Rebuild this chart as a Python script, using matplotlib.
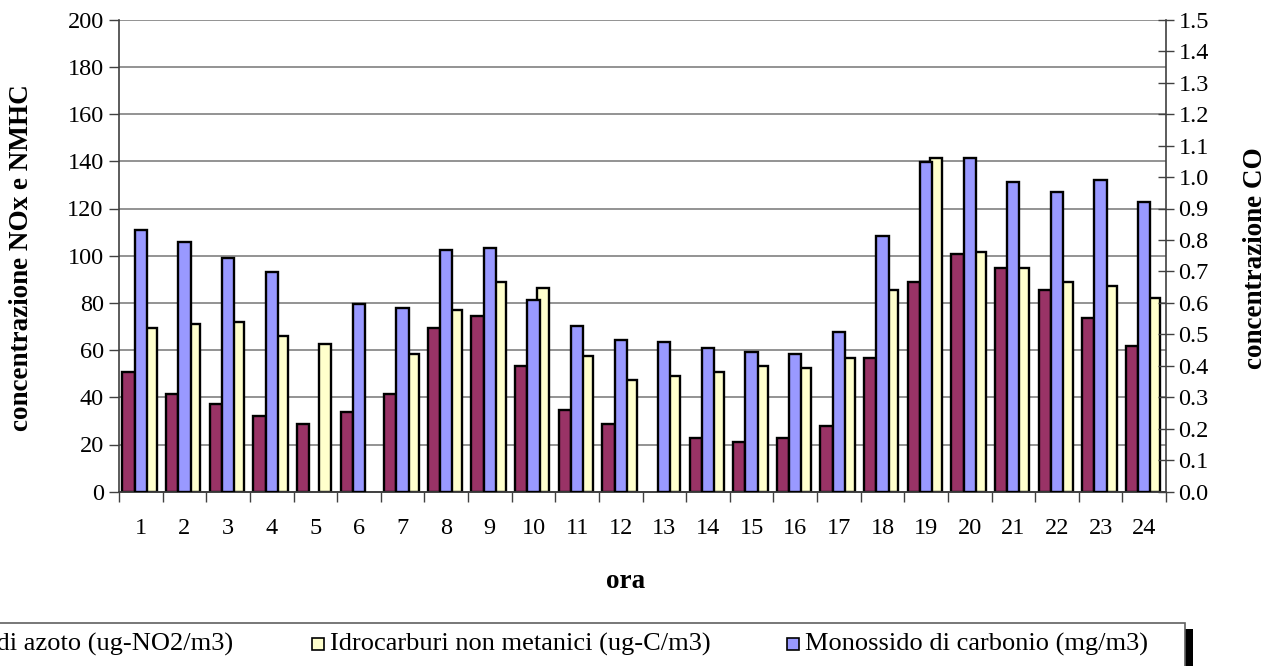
import matplotlib
matplotlib.use("Agg")
import matplotlib.pyplot as plt
from matplotlib.patches import Rectangle
import numpy as np

plt.rcParams['font.family'] = ['Liberation Serif', 'DejaVu Serif']

hours = [str(h) for h in range(1, 25)]
nox = [50.8, 41.4, 37.2, 32.1, 28.7, 33.8, 41.4, 69.4, 74.4, 53.3,
       34.6, 28.7, np.nan, 22.7, 21.1, 22.7, 27.8, 56.7, 88.9, 100.7,
       94.8, 85.5, 73.6, 61.7]
nmhc = [69.4, 71.0, 71.9, 66.0, 62.6, np.nan, 58.3, 77.0, 88.9, 86.3,
        57.5, 47.3, 49.0, 50.7, 53.3, 52.4, 56.7, 85.5, 141.4, 101.6,
        94.8, 88.9, 87.2, 82.1]
co = [0.833, 0.793, 0.744, 0.698, np.nan, 0.596, 0.584, 0.769, 0.774, 0.609,
      0.527, 0.482, 0.476, 0.457, 0.444, 0.438, 0.507, 0.812, 1.048, 1.060,
      0.984, 0.952, 0.990, 0.921]

lab_nox = "Ossidi di azoto (ug-NO2/m3)"
lab_nmhc = "Idrocarburi non metanici (ug-C/m3)"
lab_co = "Monossido di carbonio (mg/m3)"

c_nox = "#993366"
c_nmhc = "#FFFFCC"
c_co = "#9999FF"

W, H = 1279, 666
fig = plt.figure(figsize=(W / 100, H / 100), dpi=100)
L, R, T, B = 119, 1166, 19.7, 491.7
ax = fig.add_axes([L / W, 1 - B / H, (R - L) / W, (B - T) / H])
ax2 = ax.twinx()

x = np.arange(len(hours))
bw = 0.28
ax.bar(x - 0.28, nox, bw, color=c_nox, edgecolor='black', linewidth=1.7, zorder=3)
ax.bar(x + 0.227, nmhc, bw, color=c_nmhc, edgecolor='black', linewidth=1.7, zorder=3)
ax2.bar(x, co, bw, color=c_co, edgecolor='black', linewidth=1.7, zorder=3)

ax.set_xlim(-0.5, len(hours) - 0.5)
ax.set_ylim(0, 200)
ax2.set_ylim(0, 1.5)
ax.set_yticks(np.arange(0, 201, 20))
ax2.set_yticks(np.round(np.arange(0, 1.51, 0.1), 1))
ax2.set_yticklabels([f"{v:.1f}" for v in np.arange(0, 1.51, 0.1)])

tfs = 17.5
ax.set_xticks(x)
ax.set_xticklabels(hours)
ax.set_xticks(np.arange(-0.5, len(hours), 1), minor=True)
ax.tick_params(axis='x', which='major', length=0, pad=19, labelsize=tfs)
ax.tick_params(axis='x', which='minor', length=7, width=1, direction='out', color='#404040')
ax.tick_params(axis='y', length=7, width=1, direction='out', labelsize=tfs, pad=4, color='#404040')
ax2.tick_params(axis='y', length=12, width=1, direction='inout', labelsize=tfs, pad=3, color='#404040')

ax.grid(axis='y', color='#808080', linewidth=1.2, zorder=0)
ax.set_axisbelow(True)
for a in (ax, ax2):
    a.spines['top'].set_visible(False)
    for s in ('left', 'right', 'bottom'):
        a.spines[s].set_color('#404040')
        a.spines[s].set_linewidth(1.2)
ax2.spines['left'].set_visible(False)
ax.spines['right'].set_visible(False)

lfs = 19.5
fig.text(22 / W, 1 - 258 / H, "concentrazione NOx e NMHC", rotation=90, ha='center',
         va='center', fontsize=lfs, fontweight='bold')
fig.text(1255 / W, 1 - 258 / H, "concentrazione CO", rotation=90, ha='center',
         va='center', fontsize=lfs, fontweight='bold')
fig.text(626 / W, 1 - 582 / H, "ora", ha='center', va='center', fontsize=lfs, fontweight='bold')

# legend box (extends beyond left edge of the figure)
lx0, lx1, ly0, ly1 = -300, 1185, 623, 700
fig.patches.append(Rectangle(((lx0 + 8) / W, 1 - (ly1 + 6) / H), (lx1 - lx0) / W, (ly1 - ly0) / H,
                             transform=fig.transFigure, facecolor='black', edgecolor='none', zorder=1))
fig.patches.append(Rectangle((lx0 / W, 1 - ly1 / H), (lx1 - lx0) / W, (ly1 - ly0) / H,
                             transform=fig.transFigure, facecolor='white', edgecolor='#606060',
                             linewidth=1.2, zorder=2))
ty = 1 - 644 / H
fs = 19
renderer = fig.canvas.get_renderer()


def entry(text, color, xpos, align):
    t = fig.text(xpos / W, ty, text, ha=align, va='center', fontsize=fs, zorder=3)
    bb = t.get_window_extent(renderer)
    x_start = bb.x0
    m = 12
    fig.patches.append(Rectangle(((x_start - 18) / W, ty - (m / 2) / H), m / W, m / H,
                                 transform=fig.transFigure, facecolor=color,
                                 edgecolor='black', linewidth=1.2, zorder=3))


entry(lab_nox, c_nox, 233, 'right')
entry(lab_nmhc, c_nmhc, 330, 'left')
entry(lab_co, c_co, 1148, 'right')

fig.savefig("out.png", dpi=100)
